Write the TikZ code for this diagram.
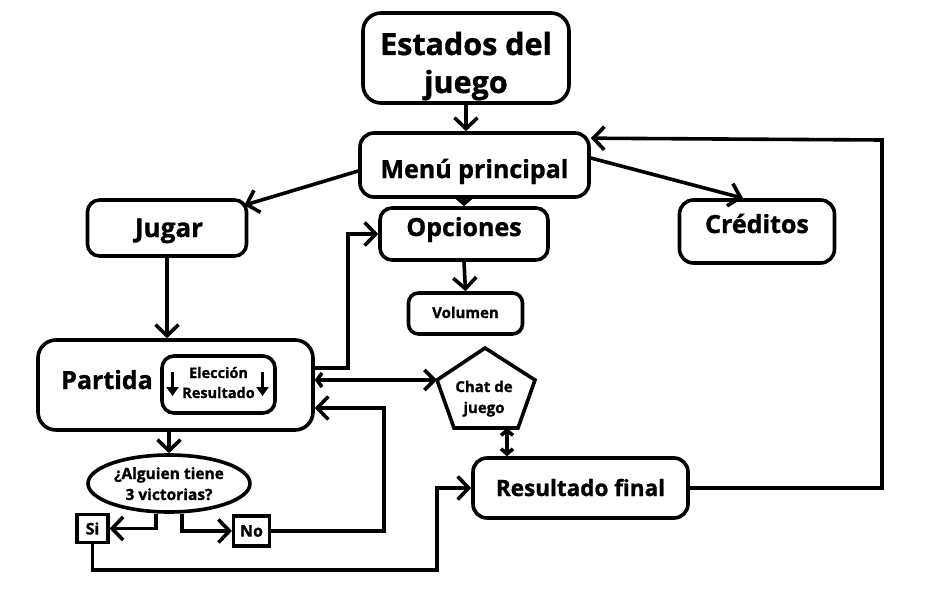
\documentclass[tikz,border=0pt]{standalone}
\usepackage{fontspec}
\setmainfont{Open Sans}[BoldFeatures={FakeBold=1.2}]
\usetikzlibrary{arrows.meta,shapes.geometric}
\newcommand{\bl}[2]{\raisebox{#1}[0pt][0pt]{#2}}
\newcommand{\tl}[2]{\raisebox{#1}[0pt][0pt]{\begin{tabular}[t]{@{}c@{}}#2\end{tabular}}}
\begin{document}
\begin{tikzpicture}[x=1pt,y=-1pt,
 bx/.style={draw,line width=3.6pt,rounded corners=14pt,align=center,inner sep=0pt,font=\bfseries\fontsize{25}{29}\selectfont},
 sq/.style={draw,line width=3.2pt,inner sep=0pt,font=\bfseries\fontsize{16}{18}\selectfont},
 arr/.style={line width=3.6pt,-{Straight Barb[length=11pt,width=23pt]}},
 arrs/.style={line width=3.6pt,-{Straight Barb[length=6pt,width=14pt]}},
 darr/.style={line width=3.6pt,{Straight Barb[length=5pt,width=14pt]}-{Straight Barb[length=10pt,width=20pt]}},
 darrs/.style={line width=3.6pt,{Straight Barb[length=5pt,width=12pt]}-{Straight Barb[length=5pt,width=12pt]}},
 inarr/.style={line width=3pt,-{Triangle[length=9pt,width=12pt]}}]
\path[use as bounding box] (0,0) rectangle (927,594);
\node[bx,minimum width=206pt,minimum height=90pt,rounded corners=18pt,font=\bfseries\fontsize{30.5}{38}\selectfont] (estados) at (466,58) {\tl{3pt}{Estados del\\juego}};
\node[bx,minimum width=229pt,minimum height=64pt] (menu) at (474.5,165) {\bl{-13pt}{Menú principal}};
\node[bx,minimum width=159pt,minimum height=56pt,rounded corners=12pt,font=\bfseries\fontsize{26}{30}\selectfont] (jugar) at (167,228) {\bl{-9pt}{\hspace*{4pt}Jugar}};
\node[bx,minimum width=168pt,minimum height=52pt,rounded corners=12pt] (opciones) at (464,234) {\bl{-2pt}{Opciones}};
\node[bx,minimum width=114pt,minimum height=41pt,rounded corners=10pt,font=\bfseries\fontsize{15}{17}\selectfont] (volumen) at (465.5,313.5) {\bl{-4.5pt}{Volumen}};
\node[bx,minimum width=155pt,minimum height=63pt] (creditos) at (757,231.5) {\bl{-1.5pt}{Créditos}};
\node[bx,minimum width=275pt,minimum height=90pt,rounded corners=18pt] (partida) at (175.5,385) {};
\node[anchor=base west,inner sep=0pt,font=\bfseries\fontsize{25}{29}\selectfont] (ptxt) at (61,389) {Partida};
\node[bx,minimum width=113pt,minimum height=57pt,rounded corners=12pt,font=\bfseries\fontsize{14.5}{20}\selectfont] (inner) at (218.5,384.5) {\tl{6.5pt}{Elección\\Resultado}};
\node[draw,ellipse,line width=3.6pt,minimum width=162pt,minimum height=57pt,inner sep=0pt,align=center,font=\bfseries\fontsize{15.5}{21}\selectfont] (q) at (169,483.5) {\tl{4.5pt}{¿Alguien tiene\\3 victorias?}};
\node[sq,minimum width=31pt,minimum height=28pt] (si) at (92.5,528.5) {Si};
\node[sq,minimum width=36pt,minimum height=30pt] (no) at (251.5,531) {No};
\node[bx,minimum width=215pt,minimum height=60pt,font=\bfseries\fontsize{22.5}{26}\selectfont] (resfinal) at (580.5,488) {\bl{-8pt}{Resultado final}};
\coordinate (p1) at (485,348);
\coordinate (p2) at (535,380);
\coordinate (p3) at (518,428);
\coordinate (p4) at (454,428);
\coordinate (p5) at (437,380);
\draw[line width=3.6pt,line join=miter] (p1)--(p2)--(p3)--(p4)--(p5)--cycle;
\node[inner sep=0pt,font=\bfseries\fontsize{15}{21}\selectfont] (chat) at (484,398) {\tl{6pt}{Chat de\\juego}};
% connectors
\draw[arr] (estados.south) -- (estados.south |- menu.north);
\draw[arr] ([yshift=-6pt]menu.west) -- ([xshift=-4pt,yshift=-7pt]jugar.north east);
\draw[arrs] (opciones.north |- menu.south) -- (opciones.north);
\draw[arr] ([yshift=7pt]menu.east) -- ([xshift=-14pt]creditos.north);
\draw[arr] (opciones.south) -- (volumen.north);
\draw[arr] (jugar.south) -- (jugar.south |- partida.north);
\coordinate (k1) at (348,234);
\draw[arr] ([yshift=17pt]partida.east) -| (k1) -- (opciones.west);
\draw[darr] ([yshift=5pt]partida.east) -- (p5);
\coordinate (k2) at (384,408);
\draw[arr] (no.east) -| (k2) -- ([yshift=-23pt]partida.east);
\draw[arr] (q.north |- partida.south) -- (q.north);
\draw[arr] ([xshift=-13pt]q.south) |- (si.east);
\draw[arr] ([xshift=13pt]q.south) |- (no.west);
\coordinate (k3) at (437,570);
\draw[arr] (si.south) |- (k3) |- (resfinal.west);
\coordinate (chatb) at (507,428);
\draw[darrs] (chatb) -- (chatb |- resfinal.north);
\coordinate (k4) at (882,140);
\draw[arr] (resfinal.east) -| (k4) -- ([yshift=-7pt]menu.north east);
\draw[inarr] ([xshift=-46pt,yshift=12.5pt]inner.center) -- ([xshift=-46pt,yshift=-11.5pt]inner.center);
\draw[inarr] ([xshift=44pt,yshift=12.5pt]inner.center) -- ([xshift=44pt,yshift=-11.5pt]inner.center);
\end{tikzpicture}
\end{document}
